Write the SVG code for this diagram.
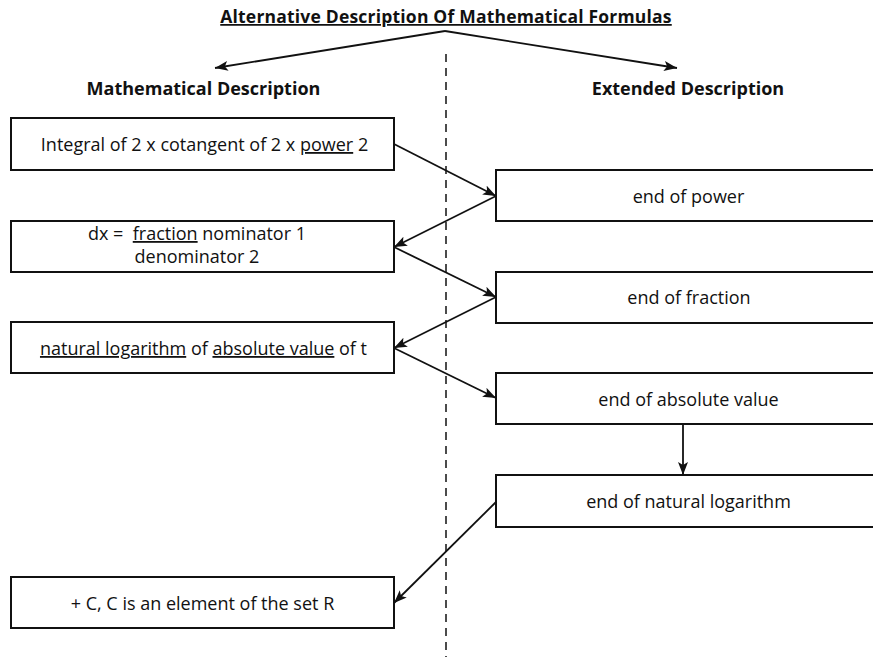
<svg xmlns="http://www.w3.org/2000/svg" width="873" height="657" viewBox="0 0 873 657">
<style>
.box{fill:#fff;stroke:#111;stroke-width:2}
.t{font-family:"Open Sans","Noto Sans","Liberation Sans",sans-serif;font-size:18px;fill:#111;text-anchor:middle}
.h{font-family:"Open Sans","Noto Sans","Liberation Sans",sans-serif;font-size:18px;font-weight:bold;fill:#111;text-anchor:middle}
.ttl{font-family:"Open Sans","Noto Sans","Liberation Sans",sans-serif;font-size:17.5px;letter-spacing:0.2px;font-weight:bold;fill:#111;text-decoration:underline;text-anchor:middle}
.u{text-decoration:underline}
.c{stroke:#111;stroke-width:1.8;fill:none;marker-end:url(#ah)}
.dash{stroke:#111;stroke-width:1.5;stroke-dasharray:8 6}
</style>
<defs>
<marker id="ah" markerUnits="userSpaceOnUse" markerWidth="14" markerHeight="12" refX="13" refY="5" orient="auto">
<path d="M0,0 L13,5 L0,10 L3,5 z" fill="#111"/>
</marker>
</defs>
<rect width="873" height="657" fill="#fff"/>
<line class="dash" x1="446" y1="54" x2="446" y2="657"/>
<g id="title">
<text class="ttl" x="446" y="23">Alternative Description Of Mathematical Formulas</text>
</g>
<g id="header-math"><text class="h" x="203.5" y="95">Mathematical Description</text></g>
<g id="header-ext"><text class="h" x="688" y="95">Extended Description</text></g>
<g id="m1"><rect class="box" x="11" y="118" width="383" height="52"/>
<text class="t" x="204.5" y="151">Integral of 2 x cotangent of 2 x <tspan class="u">power</tspan> 2</text></g>
<g id="m2"><rect class="box" x="11" y="221" width="383" height="51"/>
<text class="t" x="197" y="240" style="white-space:pre">dx =  <tspan class="u">fraction</tspan> nominator 1</text>
<text class="t" x="197" y="263">denominator 2</text></g>
<g id="m3"><rect class="box" x="11" y="322" width="383" height="51"/>
<text class="t" x="203.5" y="355"><tspan class="u">natural logarithm</tspan> of <tspan class="u">absolute value</tspan> of t</text></g>
<g id="m4"><rect class="box" x="11" y="577" width="383" height="51"/>
<text class="t" x="202.5" y="610">+ C, C is an element of the set R</text></g>
<g id="e1"><rect class="box" x="496" y="170" width="390" height="51"/>
<text class="t" x="688.5" y="203">end of power</text></g>
<g id="e2"><rect class="box" x="496" y="272" width="390" height="51"/>
<text class="t" x="689" y="304">end of fraction</text></g>
<g id="e3"><rect class="box" x="496" y="373" width="390" height="51"/>
<text class="t" x="688.5" y="406">end of absolute value</text></g>
<g id="e4"><rect class="box" x="496" y="475" width="390" height="52"/>
<text class="t" x="688.5" y="508">end of natural logarithm</text></g>
<g id="connectors">
<line class="c" x1="445" y1="31" x2="215" y2="68"/>
<line class="c" x1="445" y1="31" x2="677" y2="68"/>
<line class="c" x1="394" y1="144" x2="496" y2="196"/>
<line class="c" x1="496" y1="196" x2="394" y2="247"/>
<line class="c" x1="394" y1="247" x2="496" y2="297"/>
<line class="c" x1="496" y1="297" x2="394" y2="348"/>
<line class="c" x1="394" y1="348" x2="496" y2="398"/>
<line class="c" x1="683" y1="424" x2="683" y2="475"/>
<line class="c" x1="496" y1="502" x2="394" y2="603"/>
</g>
</svg>
